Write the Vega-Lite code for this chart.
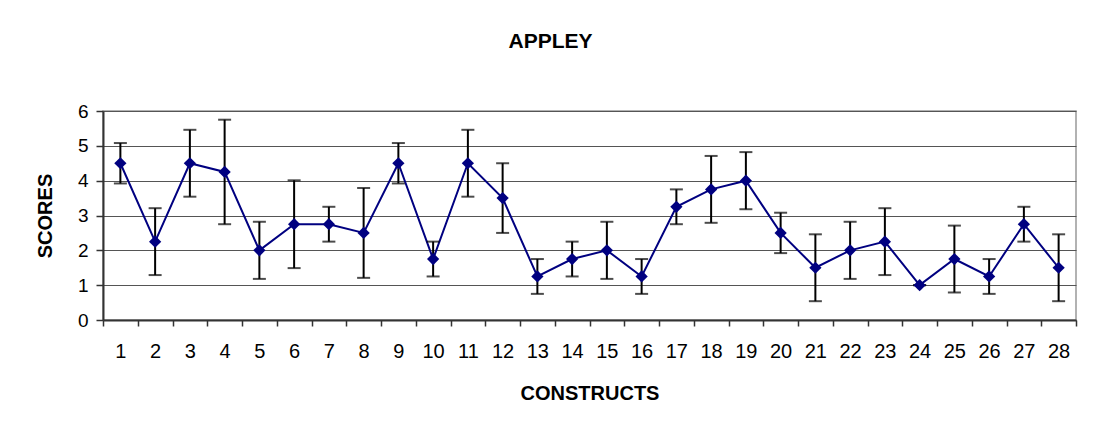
{
  "$schema": "https://vega.github.io/schema/vega-lite/v6.json",
  "autosize": {"type": "none"},
  "padding": {"left": 103, "top": 111, "right": 17, "bottom": 114},
  "width": 973,
  "height": 209,
  "background": "white",
  "title": {
    "text": "APPLEY",
    "fontSize": 21,
    "fontWeight": "bold",
    "font": "Liberation Sans",
    "color": "black",
    "anchor": "middle",
    "baseline": "alphabetic",
    "offset": 33,
    "dx": -39
  },
  "data": {
    "values": [
      {"construct": 1, "score": 4.5, "lo": 3.92, "hi": 5.08},
      {"construct": 2, "score": 2.25, "lo": 1.29, "hi": 3.21},
      {"construct": 3, "score": 4.5, "lo": 3.54, "hi": 5.46},
      {"construct": 4, "score": 4.25, "lo": 2.75, "hi": 5.75},
      {"construct": 5, "score": 2.0, "lo": 1.18, "hi": 2.82},
      {"construct": 6, "score": 2.75, "lo": 1.49, "hi": 4.01},
      {"construct": 7, "score": 2.75, "lo": 2.25, "hi": 3.25},
      {"construct": 8, "score": 2.5, "lo": 1.21, "hi": 3.79},
      {"construct": 9, "score": 4.5, "lo": 3.92, "hi": 5.08},
      {"construct": 10, "score": 1.75, "lo": 1.25, "hi": 2.25},
      {"construct": 11, "score": 4.5, "lo": 3.54, "hi": 5.46},
      {"construct": 12, "score": 3.5, "lo": 2.5, "hi": 4.5},
      {"construct": 13, "score": 1.25, "lo": 0.75, "hi": 1.75},
      {"construct": 14, "score": 1.75, "lo": 1.25, "hi": 2.25},
      {"construct": 15, "score": 2.0, "lo": 1.18, "hi": 2.82},
      {"construct": 16, "score": 1.25, "lo": 0.75, "hi": 1.75},
      {"construct": 17, "score": 3.25, "lo": 2.75, "hi": 3.75},
      {"construct": 18, "score": 3.75, "lo": 2.79, "hi": 4.71},
      {"construct": 19, "score": 4.0, "lo": 3.18, "hi": 4.82},
      {"construct": 20, "score": 2.5, "lo": 1.92, "hi": 3.08},
      {"construct": 21, "score": 1.5, "lo": 0.54, "hi": 2.46},
      {"construct": 22, "score": 2.0, "lo": 1.18, "hi": 2.82},
      {"construct": 23, "score": 2.25, "lo": 1.29, "hi": 3.21},
      {"construct": 24, "score": 1.0, "lo": 1.0, "hi": 1.0},
      {"construct": 25, "score": 1.75, "lo": 0.79, "hi": 2.71},
      {"construct": 26, "score": 1.25, "lo": 0.75, "hi": 1.75},
      {"construct": 27, "score": 2.75, "lo": 2.25, "hi": 3.25},
      {"construct": 28, "score": 1.5, "lo": 0.54, "hi": 2.46}
    ]
  },
  "encoding": {
    "x": {
      "field": "construct",
      "type": "ordinal",
      "scale": {"paddingInner": 0, "paddingOuter": 0},
      "axis": {
        "title": "CONSTRUCTS",
        "labelAngle": 0,
        "labelFontSize": 20,
        "tickBand": "extent",
        "tickSize": 6,
        "labelPadding": 15,
        "titlePadding": 22
      }
    },
    "y": {
      "field": "score",
      "type": "quantitative",
      "scale": {"domain": [0, 6], "nice": false},
      "axis": {
        "title": "SCORES",
        "values": [0, 1, 2, 3, 4, 5, 6],
        "labelFontSize": 19,
        "tickSize": 7,
        "labelPadding": 8,
        "titlePadding": 22
      }
    }
  },
  "layer": [
    {
      "mark": {"type": "line", "color": "#000080", "strokeWidth": 2}
    },
    {
      "mark": {"type": "rule", "color": "black", "strokeWidth": 2},
      "encoding": {"y": {"field": "lo", "type": "quantitative"}, "y2": {"field": "hi"}}
    },
    {
      "mark": {"type": "tick", "color": "black", "size": 13, "thickness": 2},
      "encoding": {"y": {"field": "lo", "type": "quantitative"}}
    },
    {
      "mark": {"type": "tick", "color": "black", "size": 13, "thickness": 2},
      "encoding": {"y": {"field": "hi", "type": "quantitative"}}
    },
    {
      "mark": {"type": "point", "shape": "diamond", "filled": true, "size": 150, "color": "#000080", "opacity": 1}
    }
  ],
  "config": {
    "font": "Liberation Sans",
    "view": {"stroke": "#999999", "strokeWidth": 1.5},
    "axis": {
      "labelFont": "Liberation Sans",
      "labelColor": "black",
      "titleFont": "Liberation Sans",
      "titleFontSize": 20,
      "titleFontWeight": "bold",
      "titleColor": "black",
      "domainColor": "#333333",
      "domainWidth": 2,
      "tickColor": "#333333",
      "tickWidth": 1.5,
      "gridColor": "#555555",
      "gridWidth": 1
    },
    "axisX": {"grid": false},
    "axisY": {"grid": true}
  }
}
